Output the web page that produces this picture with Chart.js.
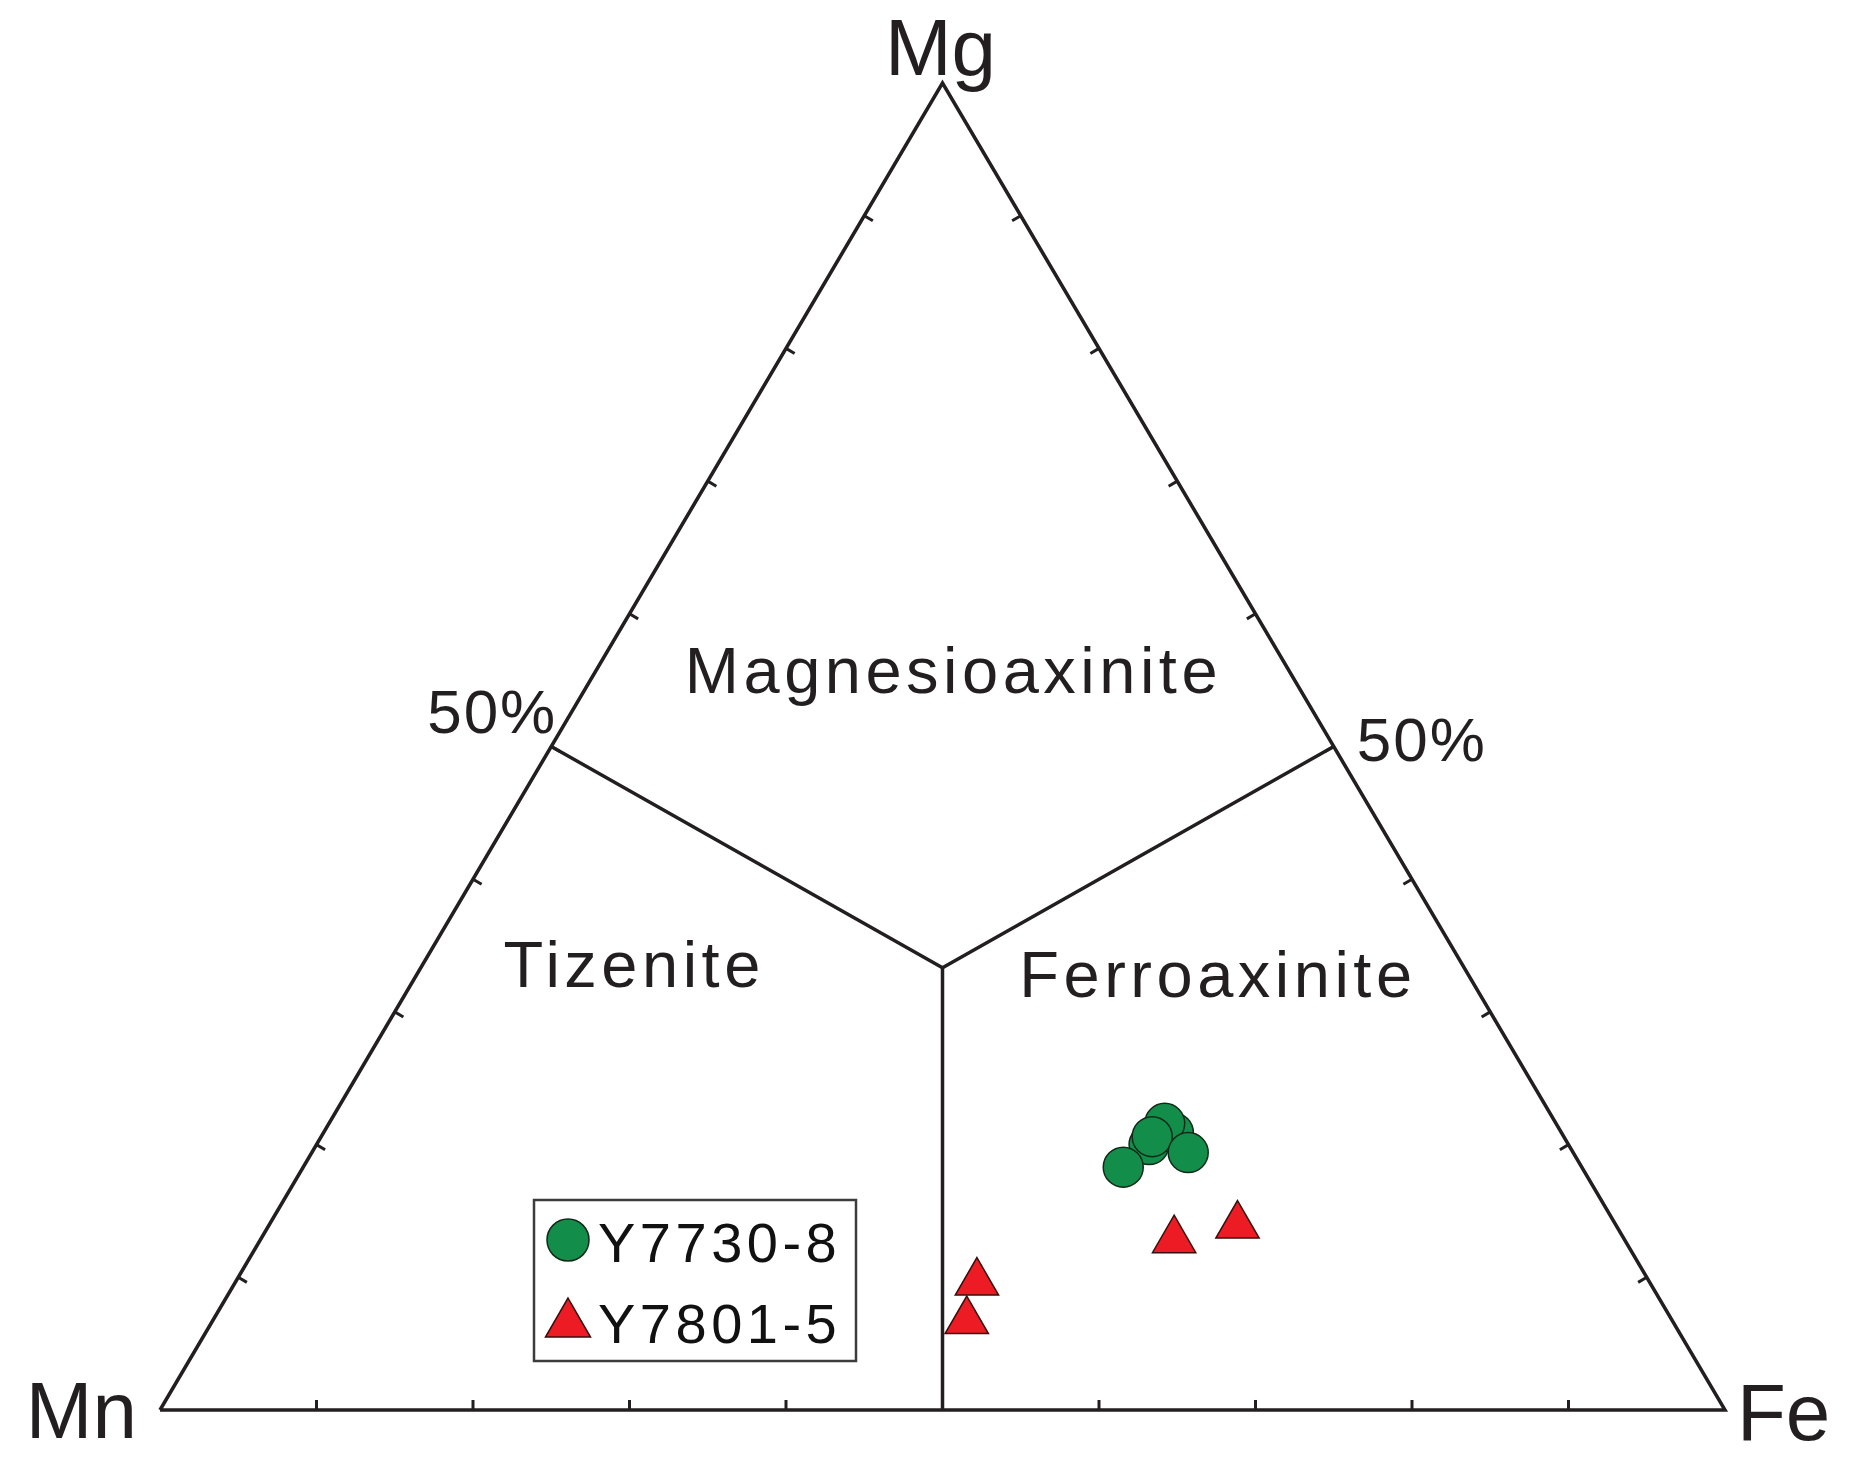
<!DOCTYPE html>
<html>
<head>
<meta charset="utf-8">
<script src="https://cdn.jsdelivr.net/npm/chart.js@4.4.1/dist/chart.umd.min.js"></script>
<style>
  html, body { margin: 0; padding: 0; background: #fff; }
  #wrap { width: 1850px; height: 1470px; }
</style>
</head>
<body>
<div id="wrap"><canvas id="ternary"></canvas></div>
<script>
// sample names and compositions (Mn, Fe, Mg in %)
const seriesNames = ['Y7730-8', 'Y7801-5'];
const y7730Mn = [26.8, 24.8, 25.0, 26.3, 29.3, 24.6];
const y7730Fe = [53.2, 54.3, 53.4, 53.1, 52.4, 56.0];
const y7730Mg = [20.0, 20.9, 21.6, 20.6, 18.3, 19.4];
const y7801Mn = [45.1, 43.0, 28.8, 24.2];
const y7801Fe = [48.2, 47.4, 58.4, 61.9];
const y7801Mg = [6.7, 9.6, 12.8, 13.9];

const vertexLabels = ['Mn', 'Fe', 'Mg'];
const fieldNames = ['Magnesioaxinite', 'Tizenite', 'Ferroaxinite'];
const tickSteps = [10, 20, 30, 40, 50, 60, 70, 80, 90];
const halfLabel = '50%';

const ink = '#231f20';
const font = "'Liberation Sans', Arial, sans-serif";

// ternary (Mn, Fe, Mg) -> cartesian, Mn at left, Fe at right, Mg on top
function toXY(mn, fe, mg) {
  return { x: (fe + mg / 2) / 100, y: mg / 100 };
}
function series(mn, fe, mg) {
  return mn.map((v, i) => toXY(v, fe[i], mg[i]));
}

const outline = [toXY(100, 0, 0), toXY(0, 100, 0), toXY(0, 0, 100), toXY(100, 0, 0)];
const splitArms = [toXY(50, 0, 50), toXY(100 / 3, 100 / 3, 100 / 3), toXY(0, 50, 50)];
const splitStem = [toXY(100 / 3, 100 / 3, 100 / 3), toXY(50, 50, 0)];

const lineDs = (data) => ({
  data: data, showLine: true, borderColor: ink, borderWidth: 3.5,
  pointRadius: 0, pointHoverRadius: 0, fill: false, tension: 0,
  clip: false, order: 2, borderJoinStyle: 'miter'
});

const dataSets = [
  {
    label: seriesNames[0],
    data: series(y7730Mn, y7730Fe, y7730Mg),
    pointStyle: 'circle', pointRadius: 20, pointHoverRadius: 20,
    backgroundColor: '#138d4a', borderColor: '#102a18', borderWidth: 1.5,
    clip: false, order: 0
  },
  {
    label: seriesNames[1],
    data: series(y7801Mn, y7801Fe, y7801Mg),
    pointStyle: 'triangle', pointRadius: 25, pointHoverRadius: 25,
    backgroundColor: '#ed1c24', borderColor: '#3a0d0d', borderWidth: 1.5,
    clip: false, order: 0
  },
  lineDs(outline),
  lineDs(splitArms),
  lineDs(splitStem)
];

const ternaryDecor = {
  id: 'ternaryDecor',
  afterDatasetsDraw(chart) {
    const { ctx, scales: { x, y } } = chart;
    const px = (mn, fe, mg) => {
      const p = toXY(mn, fe, mg);
      return [x.getPixelForValue(p.x), y.getPixelForValue(p.y)];
    };
    const c = px(100 / 3, 100 / 3, 100 / 3);
    ctx.save();

    // ticks on the three sides, pointing inward
    ctx.strokeStyle = ink;
    ctx.lineWidth = 3;
    const edges = [
      [[100, 0, 0], [0, 100, 0]],
      [[100, 0, 0], [0, 0, 100]],
      [[0, 100, 0], [0, 0, 100]]
    ];
    edges.forEach(([a, b]) => {
      const pa = px(...a), pb = px(...b);
      let dx = pb[0] - pa[0], dy = pb[1] - pa[1];
      const len = Math.hypot(dx, dy);
      let nx = -dy / len, ny = dx / len;
      const mx = (pa[0] + pb[0]) / 2, my = (pa[1] + pb[1]) / 2;
      if ((c[0] - mx) * nx + (c[1] - my) * ny < 0) { nx = -nx; ny = -ny; }
      tickSteps.forEach(t => {
        const f = t / 100;
        const tx = pa[0] + (pb[0] - pa[0]) * f, ty = pa[1] + (pb[1] - pa[1]) * f;
        ctx.beginPath();
        ctx.moveTo(tx, ty);
        ctx.lineTo(tx + nx * 10, ty + ny * 10);
        ctx.stroke();
      });
    });

    ctx.fillStyle = ink;
    ctx.textBaseline = 'alphabetic';

    // corner labels
    ctx.font = '80px ' + font;
    const mn = px(100, 0, 0), fe = px(0, 100, 0), mg = px(0, 0, 100);
    ctx.textAlign = 'right';
    ctx.fillText(vertexLabels[0], mn[0] - 23, mn[1] + 28);
    ctx.textAlign = 'left';
    ctx.fillText(vertexLabels[1], fe[0] + 12, fe[1] + 30);
    ctx.textAlign = 'center';
    ctx.fillText(vertexLabels[2], mg[0] - 2, mg[1] - 8);

    // 50% marks
    ctx.font = '62px ' + font;
    ctx.letterSpacing = '2px';
    const l50 = px(50, 0, 50), r50 = px(0, 50, 50);
    ctx.textAlign = 'right';
    ctx.fillText(halfLabel, l50[0] + 6, l50[1] - 14);
    ctx.textAlign = 'left';
    ctx.fillText(halfLabel, r50[0] + 23, r50[1] + 14);

    // field names
    ctx.font = '65px ' + font;
    ctx.letterSpacing = '4.5px';
    ctx.textAlign = 'center';
    const fieldAt = [[0.507, 0.540], [0.303, 0.319], [0.676, 0.311]];
    fieldNames.forEach((name, i) => {
      ctx.fillText(name, x.getPixelForValue(fieldAt[i][0]), y.getPixelForValue(fieldAt[i][1]));
    });
    ctx.restore();
  },
  afterDraw(chart) {
    // legend box
    const { ctx, chartArea } = chart;
    const bx = chartArea.left + 374, by = chartArea.top + 1117;
    ctx.save();
    ctx.fillStyle = '#fff';
    ctx.fillRect(bx, by, 322, 161);
    ctx.strokeStyle = '#3c3c3c';
    ctx.lineWidth = 2.5;
    ctx.strokeRect(bx, by, 322, 161);
    const rows = [by + 40, by + 124];
    chart.data.datasets.slice(0, 2).forEach((ds, i) => {
      ctx.fillStyle = ds.backgroundColor;
      ctx.strokeStyle = ds.borderColor;
      ctx.lineWidth = 1.5;
      const cx = bx + 34, cy = rows[i];
      ctx.beginPath();
      if (ds.pointStyle === 'circle') {
        ctx.arc(cx, cy, 21, 0, Math.PI * 2);
      } else {
        const r = 26;
        ctx.moveTo(cx, cy - r);
        ctx.lineTo(cx + r * Math.sin(2 * Math.PI / 3), cy + r / 2);
        ctx.lineTo(cx - r * Math.sin(2 * Math.PI / 3), cy + r / 2);
        ctx.closePath();
      }
      ctx.fill();
      ctx.stroke();
      ctx.fillStyle = '#111';
      ctx.font = '56px ' + font;
      ctx.letterSpacing = '4.5px';
      ctx.textAlign = 'left';
      ctx.fillText(ds.label, bx + 64, i === 0 ? by + 62 : by + 143);
    });
    ctx.restore();
  }
};

const configTernary = {
  type: 'scatter',
  data: { datasets: dataSets },
  options: {
    responsive: true,
    maintainAspectRatio: false,
    animation: false,
    layout: { padding: { left: 160, right: 125, top: 83, bottom: 60 } },
    scales: {
      x: { type: 'linear', min: 0, max: 1, display: false },
      y: { type: 'linear', min: 0, max: 1, display: false }
    },
    plugins: {
      legend: { display: false },
      tooltip: { enabled: false }
    }
  },
  plugins: [ternaryDecor]
};

const myTernary = new Chart(document.getElementById('ternary'), configTernary);
</script>
</body>
</html>
